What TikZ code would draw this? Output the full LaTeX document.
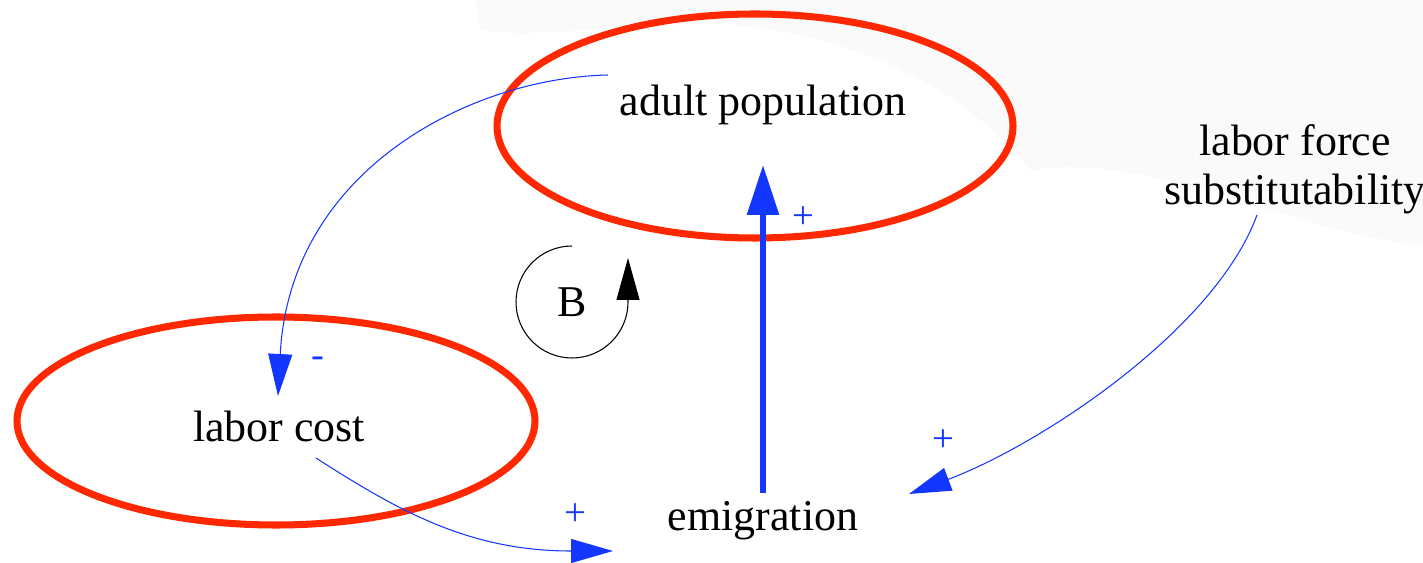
\documentclass[tikz,border=0pt]{standalone}
\usepackage{fontspec}
\setmainfont{Liberation Serif}
\usetikzlibrary{arrows.meta,calc}
\definecolor{loopred}{RGB}{255,40,0}
\definecolor{linkblue}{RGB}{20,55,255}

\begin{document}
\begin{tikzpicture}[x=0.02cm, y=-0.02cm, font=\fontsize{25}{28}\selectfont,
  var/.style={inner sep=0pt, align=center},
  hilite/.style={draw=loopred, line width=4pt},
  link/.style={draw=linkblue, line width=0.6pt,
    -{Triangle[length=0.84cm, width=0.48cm]}, linkblue},
  mainlink/.style={draw=linkblue, line width=3.4pt,
    -{Triangle[length=1.0cm, width=0.62cm]}, linkblue},
  polarity/.style={text=linkblue, font=\fontsize{22}{24}\selectfont, inner sep=0pt}]
\useasboundingbox (0,0) rectangle (1423,563);
% faint backdrop
\fill[black!2] (475,0) -- (1423,0) -- (1423,245) .. controls (1300,235) and (1150,150) .. (1030,170)
  .. controls (980,110) and (900,45) .. (740,25) .. controls (640,20) and (540,40) .. (480,30) -- cycle;
% highlighted variables
\draw[hilite] (755,126) ellipse (258 and 112);
\draw[hilite] (276,421) ellipse (259 and 104);
% variables
\node[var] (adult) at (763,105) {adult population};
\node[var] (cost) at (279,426) {labor cost};
\node[var] (subst) at (1295,169) {labor force\\substitutability};
\node[var] (emig) at (763,521) {emigration};
\node[var] (loopB) at (572,302) {B};
% link end points
\coordinate (a-out) at (608,75);
\coordinate (c-in) at (278,396);
\coordinate (c-out) at (316,458);
\coordinate (e-in1) at (613,551);
\coordinate (s-out) at (1257,215);
\coordinate (e-in2) at (909,494);
\coordinate (e-out) at (763,493);
\coordinate (a-in) at (763,165);
% links
\draw[link] (a-out) .. controls (470,78) and (290,170) .. (c-in);
\draw[link] (c-out) .. controls (400,512) and (470,551) .. (e-in1);
\draw[link] (s-out) .. controls (1215,330) and (1040,445) .. (e-in2);
\draw[mainlink] (e-out) -- (a-in);
% polarities
\node[polarity] (p1) at (318,362) {-};
\node[polarity] (p2) at (575,515) {+};
\node[polarity] (p3) at (943,441) {+};
\node[polarity] (p4) at (803,218) {+};
% loop marker
\draw[black, line width=0.6pt, -{Triangle[length=0.84cm, width=0.46cm]}]
  ($(loopB)+(0,-56)$) arc[start angle=270, end angle=0, radius=56] -- ++(0,-44);
\end{tikzpicture}
\end{document}
